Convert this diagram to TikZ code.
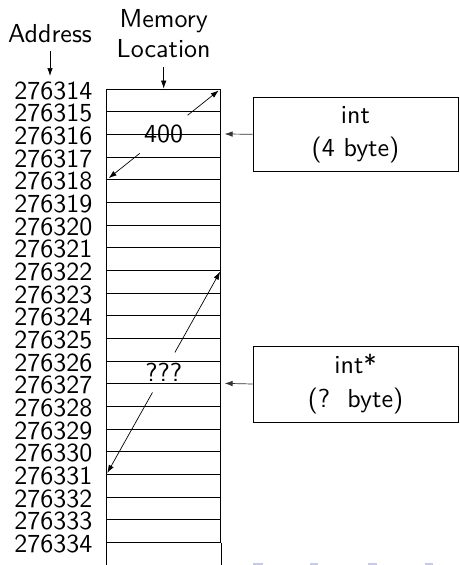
\documentclass[tikz,border=0pt]{standalone}
\usetikzlibrary{arrows.meta}
\definecolor{navc}{RGB}{200,200,235}
\begin{document}
\begin{tikzpicture}[x=1pt,y=-1pt,
  txt/.style={font=\fontsize{10}{12.7}\selectfont\sffamily, scale=2.6, transform shape, inner sep=0pt},
  cell/.style={draw, line width=0.8pt, minimum width=114pt, minimum height=22.67pt, inner sep=0pt},
  arr/.style={line width=0.7pt, -{Latex[length=8pt,width=5.5pt]}},
  valnode/.style={txt, minimum height=15pt, inner xsep=1.5pt},
  typebox/.style={draw, line width=0.8pt, minimum width=205pt},
]
\useasboundingbox (0,0) rectangle (459,565);
% memory cells
\foreach \k in {0,...,19}{
  \node[cell] (r\k) at (163.7, {89+22.667*\k+11.333}) {};
}
\draw[line width=0.8pt] (r19.south west) -- ++(0,24);
\draw[line width=0.8pt] (r19.south east) -- ++(0,24);
% addresses
\foreach \k in {0,...,20}{
  \pgfmathtruncatemacro\n{14+\k}
  \node[txt, anchor=east] (a\k) at (93, {89+22.667*\k+1.5}) {2763\n};
}
% headers
\node[txt] (addr) at (50,34) {Address};
\node[txt, align=center, font=\fontsize{10}{11.5}\selectfont\sffamily] (mem) at (163.7,34) {Memory\\Location};
\coordinate (addrTip) at (50,76);
\coordinate (addrTail) at (50,51);
\coordinate (memTail) at (163.7,67);
\draw[arr] (addrTail) -- (addrTip);
\draw[arr] (memTail) -- (r0.north);
% values
\node[valnode] (v400) at (163.7,134.3) {400};
\node[valnode] (vq) at (163.7,372.4) {???};
\draw[arr, shorten >=3pt] (v400) -- (r0.north east);
\draw[arr, shorten >=3pt] (v400) -- (r3.south west);
\draw[arr, shorten >=2pt] (vq) -- (r8.north east);
\draw[arr, shorten >=2pt] (vq) -- (r16.south west);
% type boxes
\node[typebox, minimum height=74pt] (tint) at (355.5,134.3) {};
\node[txt, align=center] (tintlbl) at (tint.center) {int\\(4 byte)};
\node[typebox, minimum height=76pt] (tptr) at (355.5,384) {};
\node[txt, align=center] (tptrlbl) at (tptr.center) {int*\\(?~~byte)};
\draw[arr, draw=black!80, shorten >=3.5pt] (tint.west) -- (r2.north east);
\draw[arr, draw=black!80, shorten >=3.5pt] (tptr.west) -- (r13.north east);
% faint navigation marks
\foreach \xa/\xb in {253/263,310/318,368/377,425/433}{
  \fill[navc] (\xa,563) rectangle (\xb,565);
}
\end{tikzpicture}
\end{document}
